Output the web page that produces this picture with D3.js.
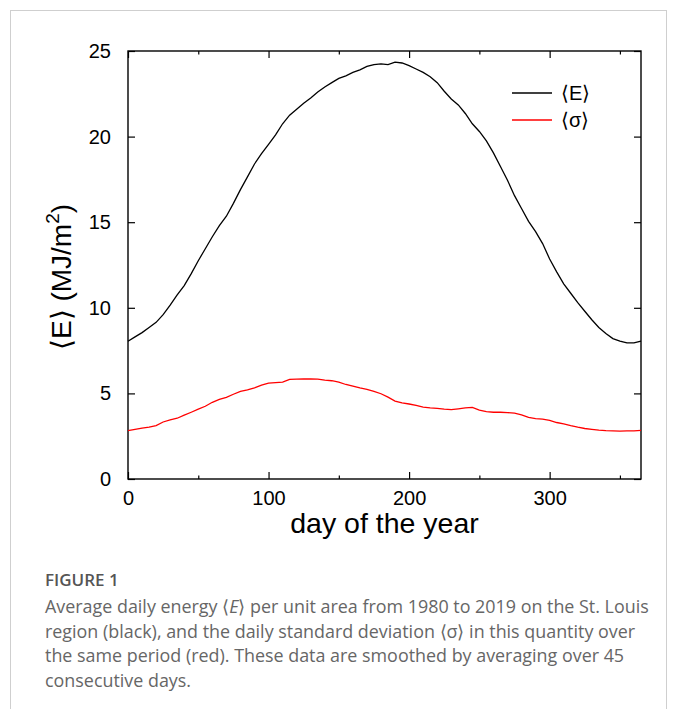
<!DOCTYPE html>
<html>
<head>
<meta charset="utf-8">
<script src="https://cdn.jsdelivr.net/npm/d3@7"></script>
<style>
  body { margin: 0; background: #fff; }
  svg text { font-family: "Liberation Sans", Arial, sans-serif; }
  svg .caption { font-family: "Open Sans", sans-serif; }
</style>
</head>
<body>
<div id="app"></div>
<script>
const days = d3.range(0, 366, 5);

const energy = [
  8.05, 8.3, 8.55, 8.85, 9.15, 9.6, 10.15, 10.75, 11.3, 12.0,
  12.75, 13.45, 14.15, 14.8, 15.35, 16.1, 16.9, 17.65, 18.4, 19.0,
  19.55, 20.1, 20.75, 21.25, 21.6, 21.95, 22.25, 22.6, 22.9, 23.15,
  23.4, 23.55, 23.75, 23.9, 24.1, 24.2, 24.25, 24.2, 24.35, 24.3,
  24.15, 23.95, 23.75, 23.5, 23.15, 22.65, 22.2, 21.85, 21.35, 20.75,
  20.3, 19.75, 19.05, 18.25, 17.45, 16.55, 15.8, 15.05, 14.45, 13.75,
  12.85, 12.1, 11.4, 10.85, 10.3, 9.8, 9.3, 8.85, 8.5, 8.2,
  8.05, 7.95, 7.95, 8.05
];

const sigma = [
  2.82, 2.9, 2.97, 3.03, 3.12, 3.33, 3.45, 3.55, 3.73, 3.9,
  4.08, 4.25, 4.48, 4.65, 4.77, 4.95, 5.12, 5.2, 5.32, 5.48,
  5.6, 5.63, 5.66, 5.82, 5.83, 5.84, 5.85, 5.83, 5.77, 5.74,
  5.66, 5.52, 5.42, 5.32, 5.24, 5.12, 4.98, 4.78, 4.55, 4.45,
  4.38, 4.3, 4.2, 4.15, 4.12, 4.08, 4.05, 4.1, 4.15, 4.18,
  4.02, 3.93, 3.9, 3.9, 3.88, 3.85, 3.75, 3.6, 3.53, 3.5,
  3.42, 3.3, 3.22, 3.12, 3.03, 2.95, 2.9, 2.85, 2.82, 2.81,
  2.8, 2.81, 2.81, 2.84
];

const xMajor = [0, 100, 200, 300];
const xMinor = [50, 150, 250, 350];
const yTicks = [0, 5, 10, 15, 20, 25];

const seriesNames = ["\u27E8E\u27E9", "\u27E8\u03C3\u27E9"];
const seriesColors = ["#000", "#f00"];

const captionLines = [
  ["Average daily energy \u27E8", "E", "\u27E9 per unit area from 1980 to 2019 on the St. Louis"],
  ["region (black), and the daily standard deviation \u27E8\u03C3\u27E9 in this quantity over"],
  ["the same period (red). These data are smoothed by averaging over 45"],
  ["consecutive days."]
];

const chart = () => {
  const width = 677;
  const height = 709;
  const marginLeft = 128;
  const marginRight = 36;
  const marginTop = 51;
  const plotBottom = 479;

  const svg = d3.create("svg").attr("width", width).attr("height", height);

  // outer figure frame
  svg.append("rect")
    .attr("x", 10.5).attr("y", 10.5)
    .attr("width", 656).attr("height", 720)
    .attr("fill", "none").attr("stroke", "#cfcfcf");

  const x = d3.scaleLinear().domain([0, 365]).range([marginLeft, width - marginRight]);
  const y = d3.scaleLinear().domain([0, 25]).range([plotBottom, marginTop]);

  const styleAxis = (g) => {
    g.select(".domain").remove();
    g.selectAll(".tick line").attr("stroke", "#000").attr("stroke-width", 1.2);
    g.selectAll("text").attr("font-size", 20).attr("fill", "#000");
  };

  svg.append("g")
    .attr("transform", `translate(0,${plotBottom})`)
    .call(d3.axisBottom(x).tickValues(xMajor).tickSize(-7).tickPadding(12))
    .call(styleAxis);
  svg.append("g")
    .attr("transform", `translate(0,${plotBottom})`)
    .call(d3.axisBottom(x).tickValues(xMinor).tickSize(-3.5).tickFormat(""))
    .call(styleAxis);
  svg.append("g")
    .attr("transform", `translate(0,${marginTop})`)
    .call(d3.axisTop(x).tickValues(xMajor).tickSize(-7).tickFormat(""))
    .call(styleAxis);
  svg.append("g")
    .attr("transform", `translate(0,${marginTop})`)
    .call(d3.axisTop(x).tickValues(xMinor).tickSize(-3.5).tickFormat(""))
    .call(styleAxis);
  svg.append("g")
    .attr("transform", `translate(${marginLeft},0)`)
    .call(d3.axisLeft(y).tickValues(yTicks).tickSize(-7).tickPadding(17))
    .call(styleAxis);
  svg.append("g")
    .attr("transform", `translate(${width - marginRight},0)`)
    .call(d3.axisRight(y).tickValues(yTicks).tickSize(-7).tickFormat(""))
    .call(styleAxis);

  // plot border
  svg.append("rect")
    .attr("x", marginLeft).attr("y", marginTop)
    .attr("width", width - marginRight - marginLeft)
    .attr("height", plotBottom - marginTop)
    .attr("fill", "none").attr("stroke", "#000").attr("stroke-width", 1.4);

  const line = d3.line()
    .x((d) => x(d[0]))
    .y((d) => y(d[1]));

  [energy, sigma].forEach((vals, i) => {
    svg.append("path")
      .datum(days.map((d, j) => [d, vals[j]]))
      .attr("fill", "none")
      .attr("stroke", seriesColors[i])
      .attr("stroke-width", 1.3)
      .attr("d", line);
  });

  // legend
  const legend = svg.append("g").attr("transform", "translate(512,93)");
  seriesNames.forEach((name, i) => {
    legend.append("line")
      .attr("x1", 0).attr("x2", 40)
      .attr("y1", i * 27).attr("y2", i * 27)
      .attr("stroke", seriesColors[i]).attr("stroke-width", 1.3);
    legend.append("text")
      .attr("x", 49).attr("y", i * 27 + 7)
      .attr("font-size", 20)
      .text(name);
  });

  // axis titles
  svg.append("text")
    .attr("x", (marginLeft + width - marginRight) / 2)
    .attr("y", 533)
    .attr("text-anchor", "middle")
    .attr("font-size", 28.5)
    .text("day of the year");

  const yTitle = svg.append("text")
    .attr("transform", "translate(71,277) rotate(-90)")
    .attr("text-anchor", "middle")
    .attr("font-size", 28);
  yTitle.append("tspan").text("\u27E8E\u27E9 (MJ/m");
  yTitle.append("tspan").attr("dy", -12).attr("font-size", 19).text("2");
  yTitle.append("tspan").attr("dy", 12).text(")");

  // caption
  svg.append("text")
    .attr("class", "caption")
    .attr("x", 45).attr("y", 586)
    .attr("font-size", 17).attr("font-weight", 600)
    .attr("fill", "#555")
    .text("FIGURE 1");

  captionLines.forEach((parts, i) => {
    const t = svg.append("text")
      .attr("class", "caption")
      .attr("x", 45).attr("y", 613 + i * 24.5)
      .attr("font-size", 17.9)
      .attr("fill", "#666");
    parts.forEach((p, k) => {
      const s = t.append("tspan").text(p);
      if (parts.length > 1 && k === 1) s.attr("font-style", "italic");
    });
  });

  return svg.node();
};

d3.select("#app").append(chart);
</script>
</body>
</html>
